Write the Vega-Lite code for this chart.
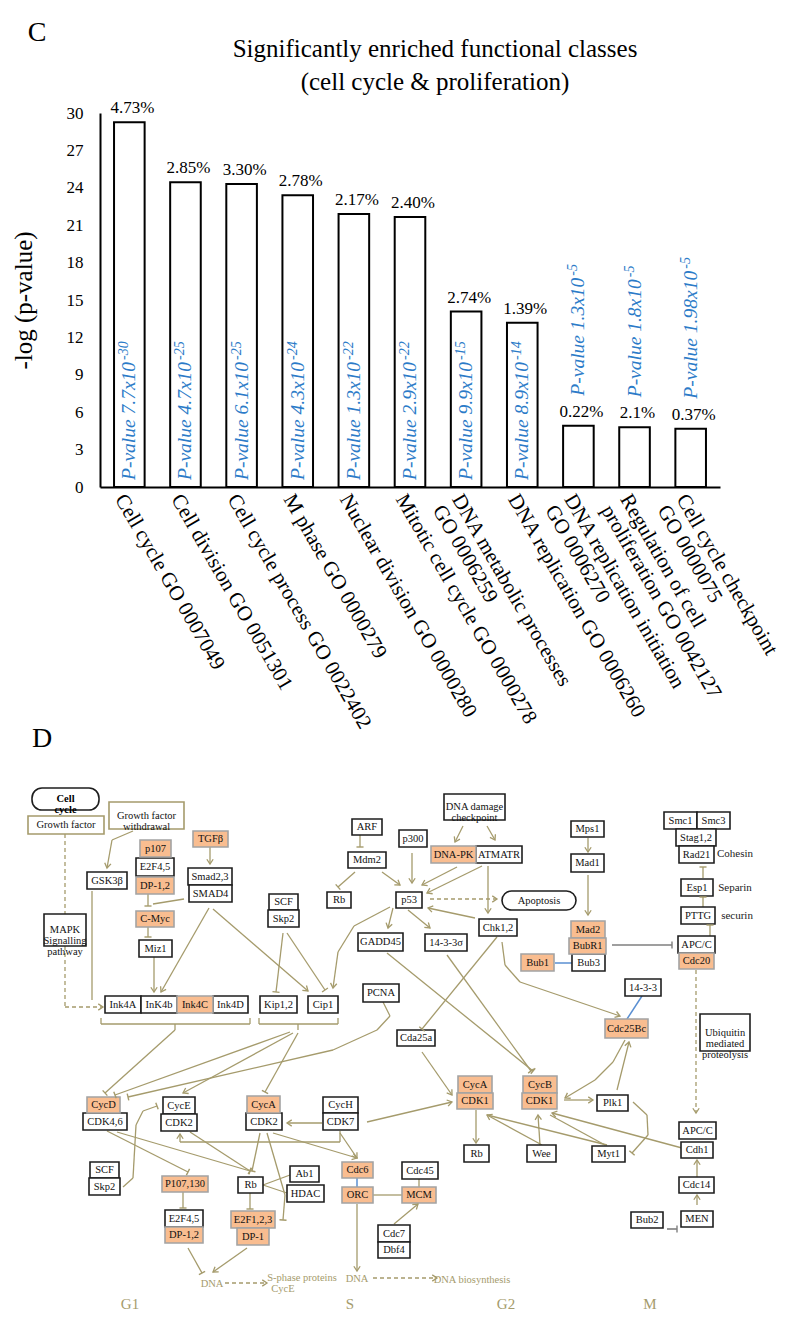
{
  "$schema": "https://vega.github.io/schema/vega-lite/v6.json",
  "width": 800,
  "height": 1328,
  "autosize": {"type": "none"},
  "padding": 0,
  "background": "white",
  "config": {"view": {"stroke": null}, "font": "Liberation Serif", "text": {"font": "Liberation Serif"}},
  "datasets": {
    "bars": [
      {"cat": "Cell cycle GO 0007049", "v": 29.25, "pct": "4.73%", "pv": "P-value 7.7x10", "ex": "-30"},
      {"cat": "Cell division GO 0051301", "v": 24.45, "pct": "2.85%", "pv": "P-value 4.7x10", "ex": "-25"},
      {"cat": "Cell cycle process GO  0022402", "v": 24.3, "pct": "3.30%", "pv": "P-value 6.1x10", "ex": "-25"},
      {"cat": "M phase GO 0000279", "v": 23.4, "pct": "2.78%", "pv": "P-value 4.3x10", "ex": "-24"},
      {"cat": "Nuclear division GO 0000280", "v": 21.9, "pct": "2.17%", "pv": "P-value 1.3x10", "ex": "-22"},
      {"cat": "Mitotic cell cycle GO 0000278", "v": 21.65, "pct": "2.40%", "pv": "P-value 2.9x10", "ex": "-22"},
      {"cat": "DNA metabolic processes|GO 0006259", "v": 14.07, "pct": "2.74%", "pv": "P-value 9.9x10", "ex": "-15"},
      {"cat": "DNA replication GO 0006260", "v": 13.18, "pct": "1.39%", "pv": "P-value 8.9x10", "ex": "-14"},
      {"cat": "DNA replication initiation|GO 0006270", "v": 4.92, "pct": "0.22%", "pv": "P-value 1.3x10", "ex": "-5"},
      {"cat": "Regulation of cell|proliferation GO 0042127", "v": 4.79, "pct": "2.1%", "pv": "P-value 1.8x10", "ex": "-5"},
      {"cat": "Cell cycle checkpoint|GO 0000075", "v": 4.68, "pct": "0.37%", "pv": "P-value 1.98x10", "ex": "-5"}
    ],
    "nodes": [
      {"t": "Cell|cycle", "x1": 32, "x2": 99, "y1": 788, "y2": 810, "k": "e"},
      {"t": "Growth factor", "x1": 28, "x2": 104, "y1": 816, "y2": 834, "k": "g"},
      {"t": "Growth factor|withdrawal", "x1": 109, "x2": 184, "y1": 802, "y2": 829, "k": "g"},
      {"t": "p107", "x1": 140, "x2": 171, "y1": 840, "y2": 857, "k": "o"},
      {"t": "E2F4,5", "x1": 136, "x2": 174, "y1": 858, "y2": 876, "k": "n"},
      {"t": "DP-1,2", "x1": 136, "x2": 174, "y1": 877, "y2": 894, "k": "o"},
      {"t": "TGFβ", "x1": 193, "x2": 228, "y1": 831, "y2": 847, "k": "o"},
      {"t": "Smad2,3", "x1": 188, "x2": 232, "y1": 868, "y2": 885, "k": "n"},
      {"t": "SMAD4", "x1": 189, "x2": 232, "y1": 885, "y2": 902, "k": "n"},
      {"t": "GSK3β", "x1": 87, "x2": 127, "y1": 872, "y2": 889, "k": "n"},
      {"t": "C-Myc", "x1": 136, "x2": 174, "y1": 911, "y2": 927, "k": "o"},
      {"t": "Miz1", "x1": 139, "x2": 172, "y1": 940, "y2": 957, "k": "n"},
      {"t": "MAPK|Signalling|pathway", "x1": 44, "x2": 86, "y1": 914, "y2": 946, "k": "n"},
      {"t": "SCF", "x1": 269, "x2": 298, "y1": 894, "y2": 910, "k": "n"},
      {"t": "Skp2", "x1": 268, "x2": 299, "y1": 910, "y2": 927, "k": "n"},
      {"t": "ARF", "x1": 352, "x2": 382, "y1": 819, "y2": 835, "k": "n"},
      {"t": "Mdm2", "x1": 348, "x2": 386, "y1": 852, "y2": 868, "k": "n"},
      {"t": "Rb", "x1": 327, "x2": 351, "y1": 892, "y2": 908, "k": "n"},
      {"t": "Ink4A", "x1": 105, "x2": 141, "y1": 996, "y2": 1013, "k": "n"},
      {"t": "InK4b", "x1": 141, "x2": 177, "y1": 996, "y2": 1013, "k": "n"},
      {"t": "Ink4C", "x1": 177, "x2": 213, "y1": 996, "y2": 1013, "k": "o"},
      {"t": "Ink4D", "x1": 213, "x2": 248, "y1": 996, "y2": 1013, "k": "n"},
      {"t": "Kip1,2", "x1": 260, "x2": 297, "y1": 996, "y2": 1013, "k": "n"},
      {"t": "Cip1", "x1": 308, "x2": 338, "y1": 996, "y2": 1013, "k": "n"},
      {"t": "PCNA", "x1": 363, "x2": 399, "y1": 984, "y2": 1002, "k": "n"},
      {"t": "GADD45", "x1": 358, "x2": 403, "y1": 933, "y2": 951, "k": "n"},
      {"t": "p53", "x1": 396, "x2": 422, "y1": 892, "y2": 908, "k": "n"},
      {"t": "DNA damage|checkpoint", "x1": 444, "x2": 505, "y1": 794, "y2": 820, "k": "n"},
      {"t": "p300", "x1": 399, "x2": 427, "y1": 830, "y2": 847, "k": "n"},
      {"t": "DNA-PK", "x1": 431, "x2": 476, "y1": 846, "y2": 863, "k": "o"},
      {"t": "ATMATR", "x1": 476, "x2": 522, "y1": 846, "y2": 863, "k": "n"},
      {"t": "Apoptosis", "x1": 502, "x2": 576, "y1": 891, "y2": 910, "k": "e"},
      {"t": "Chk1,2", "x1": 479, "x2": 517, "y1": 919, "y2": 936, "k": "n"},
      {"t": "14-3-3σ", "x1": 425, "x2": 467, "y1": 934, "y2": 951, "k": "n"},
      {"t": "Mps1", "x1": 571, "x2": 604, "y1": 821, "y2": 837, "k": "n"},
      {"t": "Mad1", "x1": 571, "x2": 604, "y1": 854, "y2": 872, "k": "n"},
      {"t": "Mad2", "x1": 571, "x2": 605, "y1": 921, "y2": 938, "k": "o"},
      {"t": "BubR1", "x1": 569, "x2": 606, "y1": 938, "y2": 954, "k": "o"},
      {"t": "Bub3", "x1": 572, "x2": 605, "y1": 954, "y2": 971, "k": "n"},
      {"t": "Bub1", "x1": 521, "x2": 554, "y1": 954, "y2": 971, "k": "o"},
      {"t": "Smc1", "x1": 664, "x2": 697, "y1": 812, "y2": 829, "k": "n"},
      {"t": "Smc3", "x1": 697, "x2": 730, "y1": 812, "y2": 829, "k": "n"},
      {"t": "Stag1,2", "x1": 676, "x2": 716, "y1": 829, "y2": 846, "k": "n"},
      {"t": "Rad21", "x1": 679, "x2": 714, "y1": 846, "y2": 863, "k": "n"},
      {"t": "Esp1", "x1": 681, "x2": 713, "y1": 879, "y2": 896, "k": "n"},
      {"t": "PTTG", "x1": 681, "x2": 715, "y1": 907, "y2": 924, "k": "n"},
      {"t": "APC/C", "x1": 678, "x2": 715, "y1": 936, "y2": 953, "k": "n"},
      {"t": "Cdc20", "x1": 679, "x2": 714, "y1": 953, "y2": 969, "k": "o"},
      {"t": "14-3-3", "x1": 625, "x2": 661, "y1": 979, "y2": 996, "k": "n"},
      {"t": "Cdc25Bc", "x1": 605, "x2": 648, "y1": 1019, "y2": 1038, "k": "o"},
      {"t": "Ubiquitin|mediated|proteolysis", "x1": 700, "x2": 750, "y1": 1014, "y2": 1051, "k": "n"},
      {"t": "Cda25a", "x1": 397, "x2": 435, "y1": 1030, "y2": 1046, "k": "n"},
      {"t": "CycD", "x1": 87, "x2": 120, "y1": 1097, "y2": 1113, "k": "o"},
      {"t": "CDK4,6", "x1": 83, "x2": 127, "y1": 1113, "y2": 1130, "k": "n"},
      {"t": "CycE", "x1": 163, "x2": 195, "y1": 1097, "y2": 1114, "k": "n"},
      {"t": "CDK2", "x1": 161, "x2": 197, "y1": 1114, "y2": 1131, "k": "n"},
      {"t": "CycA", "x1": 247, "x2": 280, "y1": 1096, "y2": 1113, "k": "o"},
      {"t": "CDK2", "x1": 246, "x2": 282, "y1": 1113, "y2": 1130, "k": "n"},
      {"t": "CycH", "x1": 323, "x2": 358, "y1": 1097, "y2": 1113, "k": "n"},
      {"t": "CDK7", "x1": 323, "x2": 358, "y1": 1113, "y2": 1130, "k": "n"},
      {"t": "SCF", "x1": 90, "x2": 119, "y1": 1162, "y2": 1178, "k": "n"},
      {"t": "Skp2", "x1": 89, "x2": 120, "y1": 1178, "y2": 1195, "k": "n"},
      {"t": "P107,130", "x1": 162, "x2": 208, "y1": 1176, "y2": 1192, "k": "o"},
      {"t": "E2F4,5", "x1": 165, "x2": 203, "y1": 1210, "y2": 1227, "k": "n"},
      {"t": "DP-1,2", "x1": 165, "x2": 203, "y1": 1227, "y2": 1243, "k": "o"},
      {"t": "Rb", "x1": 238, "x2": 263, "y1": 1177, "y2": 1193, "k": "n"},
      {"t": "Ab1", "x1": 290, "x2": 319, "y1": 1166, "y2": 1182, "k": "n"},
      {"t": "HDAC", "x1": 287, "x2": 324, "y1": 1185, "y2": 1202, "k": "n"},
      {"t": "E2F1,2,3", "x1": 231, "x2": 275, "y1": 1211, "y2": 1228, "k": "o"},
      {"t": "DP-1", "x1": 237, "x2": 269, "y1": 1228, "y2": 1245, "k": "o"},
      {"t": "Cdc6", "x1": 342, "x2": 373, "y1": 1162, "y2": 1178, "k": "o"},
      {"t": "ORC", "x1": 342, "x2": 373, "y1": 1187, "y2": 1203, "k": "o"},
      {"t": "Cdc7", "x1": 378, "x2": 410, "y1": 1225, "y2": 1242, "k": "n"},
      {"t": "Dbf4", "x1": 378, "x2": 410, "y1": 1242, "y2": 1258, "k": "n"},
      {"t": "CycA", "x1": 458, "x2": 492, "y1": 1076, "y2": 1093, "k": "o"},
      {"t": "CDK1", "x1": 457, "x2": 493, "y1": 1093, "y2": 1109, "k": "o"},
      {"t": "CycB", "x1": 523, "x2": 557, "y1": 1076, "y2": 1093, "k": "o"},
      {"t": "CDK1", "x1": 522, "x2": 557, "y1": 1093, "y2": 1109, "k": "o"},
      {"t": "Plk1", "x1": 597, "x2": 628, "y1": 1095, "y2": 1111, "k": "n"},
      {"t": "Rb", "x1": 464, "x2": 489, "y1": 1145, "y2": 1162, "k": "n"},
      {"t": "Wee", "x1": 527, "x2": 556, "y1": 1145, "y2": 1162, "k": "n"},
      {"t": "Myt1", "x1": 592, "x2": 625, "y1": 1146, "y2": 1162, "k": "n"},
      {"t": "APC/C", "x1": 679, "x2": 716, "y1": 1122, "y2": 1139, "k": "n"},
      {"t": "Cdh1", "x1": 681, "x2": 713, "y1": 1142, "y2": 1158, "k": "n"},
      {"t": "Cdc14", "x1": 679, "x2": 714, "y1": 1177, "y2": 1193, "k": "n"},
      {"t": "MEN", "x1": 681, "x2": 713, "y1": 1211, "y2": 1227, "k": "n"},
      {"t": "Bub2", "x1": 631, "x2": 663, "y1": 1212, "y2": 1228, "k": "n"},
      {"t": "Cdc45", "x1": 402, "x2": 438, "y1": 1162, "y2": 1179, "k": "n"},
      {"t": "MCM", "x1": 402, "x2": 436, "y1": 1187, "y2": 1203, "k": "o"}
    ],
    "edges": [
      {"x1": 65, "y1": 834, "x2": 65, "y2": 1007, "h": "n", "k": "d"},
      {"x1": 65, "y1": 1007, "x2": 103, "y2": 1007, "h": "a", "k": "d"},
      {"x1": 133, "y1": 831, "x2": 112, "y2": 840, "h": "n", "k": "o"},
      {"x1": 112, "y1": 840, "x2": 107, "y2": 868, "h": "a", "k": "o"},
      {"x1": 92, "y1": 891, "x2": 92, "y2": 1000, "h": "n", "k": "o"},
      {"x1": 148, "y1": 894, "x2": 148, "y2": 906, "h": "t", "k": "o"},
      {"x1": 184, "y1": 899, "x2": 153, "y2": 904, "h": "n", "k": "o"},
      {"x1": 148, "y1": 927, "x2": 148, "y2": 937, "h": "t", "k": "o"},
      {"x1": 154, "y1": 957, "x2": 154, "y2": 992, "h": "a", "k": "o"},
      {"x1": 209, "y1": 908, "x2": 161, "y2": 992, "h": "a", "k": "o"},
      {"x1": 213, "y1": 909, "x2": 308, "y2": 991, "h": "a", "k": "o"},
      {"x1": 210, "y1": 847, "x2": 210, "y2": 864, "h": "a", "k": "o"},
      {"x1": 283, "y1": 933, "x2": 276, "y2": 992, "h": "t", "k": "o"},
      {"x1": 287, "y1": 933, "x2": 325, "y2": 990, "h": "t", "k": "o"},
      {"x1": 390, "y1": 907, "x2": 354, "y2": 926, "h": "n", "k": "o"},
      {"x1": 354, "y1": 926, "x2": 338, "y2": 952, "h": "n", "k": "o"},
      {"x1": 338, "y1": 952, "x2": 333, "y2": 988, "h": "a", "k": "o"},
      {"x1": 355, "y1": 872, "x2": 338, "y2": 887, "h": "t", "k": "o"},
      {"x1": 382, "y1": 872, "x2": 400, "y2": 885, "h": "a", "k": "o"},
      {"x1": 360, "y1": 835, "x2": 360, "y2": 847, "h": "t", "k": "o"},
      {"x1": 393, "y1": 908, "x2": 388, "y2": 928, "h": "a", "k": "o"},
      {"x1": 387, "y1": 953, "x2": 533, "y2": 1071, "h": "t", "k": "o"},
      {"x1": 383, "y1": 1002, "x2": 390, "y2": 1016, "h": "n", "k": "o"},
      {"x1": 390, "y1": 1016, "x2": 377, "y2": 1030, "h": "n", "k": "o"},
      {"x1": 377, "y1": 1030, "x2": 333, "y2": 1050, "h": "n", "k": "o"},
      {"x1": 333, "y1": 1050, "x2": 128, "y2": 1097, "h": "t", "k": "o"},
      {"x1": 463, "y1": 826, "x2": 455, "y2": 842, "h": "a", "k": "o"},
      {"x1": 487, "y1": 826, "x2": 495, "y2": 840, "h": "a", "k": "o"},
      {"x1": 412, "y1": 853, "x2": 412, "y2": 883, "h": "a", "k": "o"},
      {"x1": 457, "y1": 867, "x2": 422, "y2": 885, "h": "a", "k": "o"},
      {"x1": 482, "y1": 866, "x2": 427, "y2": 893, "h": "a", "k": "o"},
      {"x1": 488, "y1": 866, "x2": 488, "y2": 913, "h": "a", "k": "o"},
      {"x1": 430, "y1": 899, "x2": 497, "y2": 899, "h": "a", "k": "d"},
      {"x1": 475, "y1": 918, "x2": 428, "y2": 908, "h": "a", "k": "o"},
      {"x1": 408, "y1": 910, "x2": 430, "y2": 928, "h": "a", "k": "o"},
      {"x1": 497, "y1": 937, "x2": 422, "y2": 1029, "h": "t", "k": "o"},
      {"x1": 502, "y1": 942, "x2": 505, "y2": 965, "h": "n", "k": "o"},
      {"x1": 505, "y1": 965, "x2": 520, "y2": 982, "h": "n", "k": "o"},
      {"x1": 520, "y1": 982, "x2": 620, "y2": 1016, "h": "a", "k": "o"},
      {"x1": 447, "y1": 955, "x2": 531, "y2": 1071, "h": "t", "k": "o"},
      {"x1": 588, "y1": 838, "x2": 588, "y2": 852, "h": "a", "k": "o"},
      {"x1": 588, "y1": 875, "x2": 588, "y2": 915, "h": "a", "k": "o"},
      {"x1": 612, "y1": 945, "x2": 672, "y2": 945, "h": "t", "k": "g"},
      {"x1": 555, "y1": 963, "x2": 572, "y2": 963, "h": "n", "k": "b"},
      {"x1": 642, "y1": 996, "x2": 627, "y2": 1019, "h": "n", "k": "b"},
      {"x1": 703, "y1": 878, "x2": 703, "y2": 867, "h": "t", "k": "o"},
      {"x1": 703, "y1": 907, "x2": 703, "y2": 897, "h": "t", "k": "o"},
      {"x1": 710, "y1": 936, "x2": 710, "y2": 925, "h": "t", "k": "o"},
      {"x1": 696, "y1": 970, "x2": 696, "y2": 1113, "h": "a", "k": "d"},
      {"x1": 101, "y1": 1018, "x2": 101, "y2": 1024, "h": "n", "k": "o"},
      {"x1": 101, "y1": 1024, "x2": 250, "y2": 1024, "h": "n", "k": "o"},
      {"x1": 250, "y1": 1024, "x2": 250, "y2": 1018, "h": "n", "k": "o"},
      {"x1": 175, "y1": 1024, "x2": 175, "y2": 1030, "h": "n", "k": "o"},
      {"x1": 259, "y1": 1018, "x2": 259, "y2": 1024, "h": "n", "k": "o"},
      {"x1": 259, "y1": 1024, "x2": 338, "y2": 1024, "h": "n", "k": "o"},
      {"x1": 338, "y1": 1024, "x2": 338, "y2": 1018, "h": "n", "k": "o"},
      {"x1": 298, "y1": 1024, "x2": 298, "y2": 1030, "h": "n", "k": "o"},
      {"x1": 175, "y1": 1030, "x2": 105, "y2": 1093, "h": "t", "k": "o"},
      {"x1": 290, "y1": 1032, "x2": 115, "y2": 1095, "h": "t", "k": "o"},
      {"x1": 293, "y1": 1033, "x2": 183, "y2": 1093, "h": "a", "k": "o"},
      {"x1": 298, "y1": 1033, "x2": 265, "y2": 1092, "h": "t", "k": "o"},
      {"x1": 107, "y1": 1131, "x2": 188, "y2": 1172, "h": "t", "k": "o"},
      {"x1": 117, "y1": 1132, "x2": 250, "y2": 1171, "h": "t", "k": "o"},
      {"x1": 190, "y1": 1132, "x2": 250, "y2": 1171, "h": "t", "k": "o"},
      {"x1": 260, "y1": 1133, "x2": 252, "y2": 1171, "h": "t", "k": "o"},
      {"x1": 267, "y1": 1133, "x2": 285, "y2": 1195, "h": "n", "k": "o"},
      {"x1": 285, "y1": 1195, "x2": 283, "y2": 1220, "h": "t", "k": "o"},
      {"x1": 273, "y1": 1133, "x2": 357, "y2": 1158, "h": "a", "k": "o"},
      {"x1": 340, "y1": 1133, "x2": 357, "y2": 1158, "h": "a", "k": "o"},
      {"x1": 322, "y1": 1123, "x2": 287, "y2": 1123, "h": "a", "k": "o"},
      {"x1": 340, "y1": 1131, "x2": 340, "y2": 1142, "h": "n", "k": "o"},
      {"x1": 340, "y1": 1142, "x2": 180, "y2": 1142, "h": "n", "k": "o"},
      {"x1": 180, "y1": 1142, "x2": 180, "y2": 1134, "h": "a", "k": "o"},
      {"x1": 367, "y1": 1122, "x2": 452, "y2": 1102, "h": "a", "k": "o"},
      {"x1": 123, "y1": 1187, "x2": 133, "y2": 1178, "h": "n", "k": "o"},
      {"x1": 133, "y1": 1178, "x2": 136, "y2": 1125, "h": "n", "k": "o"},
      {"x1": 136, "y1": 1125, "x2": 143, "y2": 1111, "h": "n", "k": "o"},
      {"x1": 143, "y1": 1111, "x2": 157, "y2": 1106, "h": "t", "k": "o"},
      {"x1": 183, "y1": 1192, "x2": 183, "y2": 1208, "h": "t", "k": "o"},
      {"x1": 250, "y1": 1193, "x2": 250, "y2": 1209, "h": "t", "k": "o"},
      {"x1": 263, "y1": 1185, "x2": 290, "y2": 1175, "h": "n", "k": "o"},
      {"x1": 263, "y1": 1185, "x2": 287, "y2": 1193, "h": "n", "k": "o"},
      {"x1": 188, "y1": 1248, "x2": 202, "y2": 1273, "h": "t", "k": "o"},
      {"x1": 247, "y1": 1248, "x2": 213, "y2": 1272, "h": "a", "k": "o"},
      {"x1": 225, "y1": 1283, "x2": 267, "y2": 1283, "h": "a", "k": "d"},
      {"x1": 357, "y1": 1178, "x2": 357, "y2": 1187, "h": "n", "k": "b"},
      {"x1": 357, "y1": 1204, "x2": 357, "y2": 1271, "h": "a", "k": "o"},
      {"x1": 373, "y1": 1195, "x2": 402, "y2": 1195, "h": "n", "k": "o"},
      {"x1": 394, "y1": 1224, "x2": 418, "y2": 1204, "h": "a", "k": "o"},
      {"x1": 419, "y1": 1179, "x2": 419, "y2": 1187, "h": "n", "k": "o"},
      {"x1": 373, "y1": 1278, "x2": 437, "y2": 1278, "h": "a", "k": "d"},
      {"x1": 422, "y1": 1052, "x2": 452, "y2": 1095, "h": "a", "k": "o"},
      {"x1": 476, "y1": 1110, "x2": 476, "y2": 1143, "h": "a", "k": "o"},
      {"x1": 542, "y1": 1145, "x2": 487, "y2": 1115, "h": "a", "k": "o"},
      {"x1": 607, "y1": 1145, "x2": 487, "y2": 1115, "h": "n", "k": "o"},
      {"x1": 540, "y1": 1145, "x2": 538, "y2": 1115, "h": "a", "k": "o"},
      {"x1": 605, "y1": 1145, "x2": 550, "y2": 1115, "h": "n", "k": "o"},
      {"x1": 682, "y1": 1148, "x2": 552, "y2": 1113, "h": "a", "k": "o"},
      {"x1": 564, "y1": 1100, "x2": 593, "y2": 1100, "h": "a", "k": "o"},
      {"x1": 617, "y1": 1090, "x2": 629, "y2": 1042, "h": "a", "k": "o"},
      {"x1": 625, "y1": 1040, "x2": 613, "y2": 1062, "h": "n", "k": "o"},
      {"x1": 613, "y1": 1062, "x2": 595, "y2": 1080, "h": "n", "k": "o"},
      {"x1": 595, "y1": 1080, "x2": 565, "y2": 1098, "h": "a", "k": "o"},
      {"x1": 633, "y1": 1102, "x2": 647, "y2": 1115, "h": "n", "k": "o"},
      {"x1": 647, "y1": 1115, "x2": 648, "y2": 1135, "h": "n", "k": "o"},
      {"x1": 648, "y1": 1135, "x2": 632, "y2": 1153, "h": "t", "k": "o"},
      {"x1": 697, "y1": 1177, "x2": 697, "y2": 1160, "h": "a", "k": "o"},
      {"x1": 697, "y1": 1205, "x2": 697, "y2": 1195, "h": "a", "k": "o"},
      {"x1": 667, "y1": 1229, "x2": 677, "y2": 1229, "h": "t", "k": "g"}
    ],
    "texts": [
      {"t": "C", "x": 37, "y": 41, "k": "panel"},
      {"t": "D", "x": 42, "y": 747, "k": "panel"},
      {"t": "Significantly enriched functional classes", "x": 435, "y": 57, "k": "title"},
      {"t": "(cell cycle & proliferation)", "x": 435, "y": 90, "k": "title"},
      {"t": "Cohesin", "x": 735, "y": 857, "k": "note"},
      {"t": "Separin", "x": 735, "y": 891, "k": "note"},
      {"t": "securin", "x": 737, "y": 919, "k": "note"},
      {"t": "DNA", "x": 212, "y": 1287, "k": "dna"},
      {"t": "S-phase proteins", "x": 302, "y": 1281, "k": "dna"},
      {"t": "CycE", "x": 283, "y": 1292, "k": "dna"},
      {"t": "DNA", "x": 357, "y": 1282, "k": "dna"},
      {"t": "DNA biosynthesis", "x": 472, "y": 1283, "k": "dna"},
      {"t": "G1", "x": 130, "y": 1309, "k": "phase"},
      {"t": "S", "x": 350, "y": 1309, "k": "phase"},
      {"t": "G2", "x": 506, "y": 1309, "k": "phase"},
      {"t": "M", "x": 650, "y": 1309, "k": "phase"}
    ]
  },
  "resolve": {"scale": {"x": "independent", "y": "independent"}, "axis": {"x": "independent", "y": "independent"}},
  "layer": [
    {
      "data": {"name": "bars"},
      "encoding": {
        "x": {"field": "cat", "type": "nominal", "sort": null,
          "scale": {"range": [100, 720], "paddingInner": 0.455, "paddingOuter": 0.25},
          "axis": {"orient": "bottom", "offset": -841, "title": null, "ticks": false, "domainColor": "black", "domainWidth": 2,
            "labelAngle": 60, "labelAlign": "left", "labelBaseline": "top", "labelFont": "Liberation Serif", "labelFontSize": 21,
            "labelColor": "black", "labelPadding": 3, "labelLimit": 0, "labelOverlap": false, "labelFlush": false, "labelBound": false,
            "labelLineHeight": 22, "labelExpr": "split(datum.label, '|')", "grid": false}},
        "y": {"field": "v", "type": "quantitative",
          "scale": {"domain": [0, 30], "range": [487, 113], "nice": false, "zero": true},
          "axis": {"orient": "left", "offset": -100, "values": [0, 3, 6, 9, 12, 15, 18, 21, 24, 27, 30], "ticks": false,
            "domainColor": "black", "domainWidth": 2, "grid": false, "labelFont": "Liberation Serif", "labelFontSize": 17,
            "labelColor": "black", "labelPadding": 17, "title": "-log (p-value)", "titleFont": "Liberation Serif",
            "titleFontSize": 25, "titleFontWeight": "normal", "titleColor": "black", "titlePadding": 30}}
      },
      "layer": [
        {"mark": {"type": "bar", "fill": "white", "stroke": "black", "strokeWidth": 2}},
        {"mark": {"type": "text", "font": "Liberation Serif", "fontSize": 17, "baseline": "alphabetic", "dy": -9, "dx": 3, "color": "black"},
          "encoding": {"text": {"field": "pct"}}},
        {"transform": [{"filter": "datum.v > 10"}],
          "mark": {"type": "text", "font": "Liberation Serif", "fontStyle": "italic", "fontSize": 19.5, "angle": 270, "align": "left", "baseline": "middle", "dx": 7, "color": "#2b7bc8"},
          "encoding": {"y": {"datum": 0}, "text": {"field": "pv"}}},
        {"transform": [{"filter": "datum.v > 10"}],
          "mark": {"type": "text", "font": "Liberation Serif", "fontStyle": "italic", "fontSize": 14, "angle": 270, "align": "left", "baseline": "middle", "dx": 127, "dy": -5, "color": "#2b7bc8"},
          "encoding": {"y": {"datum": 0}, "text": {"field": "ex"}}},
        {"transform": [{"filter": "datum.v <= 10"}],
          "mark": {"type": "text", "font": "Liberation Serif", "fontStyle": "italic", "fontSize": 19.5, "angle": 270, "align": "left", "baseline": "middle", "dx": 30, "color": "#2b7bc8"},
          "encoding": {"text": {"field": "pv"}}},
        {"transform": [{"filter": "datum.v <= 10 && length(datum.pv) == 14"}],
          "mark": {"type": "text", "font": "Liberation Serif", "fontStyle": "italic", "fontSize": 14, "angle": 270, "align": "left", "baseline": "middle", "dx": 150, "dy": -5, "color": "#2b7bc8"},
          "encoding": {"text": {"field": "ex"}}},
        {"transform": [{"filter": "datum.v <= 10 && length(datum.pv) == 15"}],
          "mark": {"type": "text", "font": "Liberation Serif", "fontStyle": "italic", "fontSize": 14, "angle": 270, "align": "left", "baseline": "middle", "dx": 160, "dy": -5, "color": "#2b7bc8"},
          "encoding": {"text": {"field": "ex"}}}
      ]
    },
    {
      "layer": [
        {"data": {"name": "edges"}, "transform": [{"filter": "datum.k == 'o'"}],
          "mark": {"type": "rule", "color": "#a59b6c", "strokeWidth": 1.3},
          "encoding": {
            "x": {"field": "x1", "type": "quantitative", "scale": {"domain": [0, 800], "range": [0, 800], "nice": false, "zero": false}, "axis": null},
            "y": {"field": "y1", "type": "quantitative", "scale": {"domain": [0, 1328], "range": [0, 1328], "nice": false, "zero": false}, "axis": null},
            "x2": {"field": "x2"}, "y2": {"field": "y2"}}},
        {"data": {"name": "edges"}, "transform": [{"filter": "datum.k == 'd'"}],
          "mark": {"type": "rule", "color": "#a59b6c", "strokeWidth": 1.3, "strokeDash": [4, 3]},
          "encoding": {"x": {"field": "x1", "type": "quantitative"}, "y": {"field": "y1", "type": "quantitative"}, "x2": {"field": "x2"}, "y2": {"field": "y2"}}},
        {"data": {"name": "edges"}, "transform": [{"filter": "datum.k == 'b'"}],
          "mark": {"type": "rule", "color": "#5a8fd2", "strokeWidth": 1.5},
          "encoding": {"x": {"field": "x1", "type": "quantitative"}, "y": {"field": "y1", "type": "quantitative"}, "x2": {"field": "x2"}, "y2": {"field": "y2"}}},
        {"data": {"name": "edges"}, "transform": [{"filter": "datum.k == 'g'"}],
          "mark": {"type": "rule", "color": "#7f7f7f", "strokeWidth": 1.6},
          "encoding": {"x": {"field": "x1", "type": "quantitative"}, "y": {"field": "y1", "type": "quantitative"}, "x2": {"field": "x2"}, "y2": {"field": "y2"}}},
        {"data": {"name": "nodes"}, "transform": [{"filter": "datum.k == 'n'"}],
          "mark": {"type": "rect", "fill": "white", "stroke": "#1e1e1e", "strokeWidth": 1.6},
          "encoding": {"x": {"field": "x1", "type": "quantitative"}, "x2": {"field": "x2"}, "y": {"field": "y1", "type": "quantitative"}, "y2": {"field": "y2"}}},
        {"data": {"name": "nodes"}, "transform": [{"filter": "datum.k == 'o'"}],
          "mark": {"type": "rect", "fill": "#f9bd90", "stroke": "#a3a3a3", "strokeWidth": 1.6},
          "encoding": {"x": {"field": "x1", "type": "quantitative"}, "x2": {"field": "x2"}, "y": {"field": "y1", "type": "quantitative"}, "y2": {"field": "y2"}}},
        {"data": {"name": "nodes"}, "transform": [{"filter": "datum.k == 'g'"}],
          "mark": {"type": "rect", "fill": "white", "stroke": "#a59b6c", "strokeWidth": 1.6},
          "encoding": {"x": {"field": "x1", "type": "quantitative"}, "x2": {"field": "x2"}, "y": {"field": "y1", "type": "quantitative"}, "y2": {"field": "y2"}}},
        {"data": {"name": "nodes"}, "transform": [{"filter": "datum.k == 'e'"}],
          "mark": {"type": "rect", "fill": "white", "stroke": "#1e1e1e", "strokeWidth": 1.6, "cornerRadius": 10},
          "encoding": {"x": {"field": "x1", "type": "quantitative"}, "x2": {"field": "x2"}, "y": {"field": "y1", "type": "quantitative"}, "y2": {"field": "y2"}}},
        {"data": {"name": "edges"}, "transform": [{"filter": "datum.h == 'a'"}, {"calculate": "atan2(datum.y2 - datum.y1, datum.x2 - datum.x1) * 180 / PI", "as": "ang"}],
          "mark": {"type": "point", "shape": "M-1.5,-1L0,0L-1.5,1", "filled": false, "color": "#a59b6c", "strokeWidth": 1.3, "size": 40, "opacity": 1},
          "encoding": {"x": {"field": "x2", "type": "quantitative"}, "y": {"field": "y2", "type": "quantitative"}, "angle": {"field": "ang", "type": "quantitative", "scale": null}}},
        {"data": {"name": "edges"}, "transform": [{"filter": "datum.h == 't'"}, {"calculate": "atan2(datum.y2 - datum.y1, datum.x2 - datum.x1) * 180 / PI", "as": "ang"}],
          "mark": {"type": "point", "shape": "M0,-1L0,1", "filled": false, "strokeWidth": 1.4, "size": 50, "opacity": 1},
          "encoding": {"x": {"field": "x2", "type": "quantitative"}, "y": {"field": "y2", "type": "quantitative"}, "angle": {"field": "ang", "type": "quantitative", "scale": null},
            "color": {"condition": {"test": "datum.k == 'g'", "value": "#7f7f7f"}, "value": "#a59b6c"}}},
        {"data": {"name": "nodes"}, "transform": [{"filter": "datum.t != 'Cell|cycle'"}, {"calculate": "(datum.x1 + datum.x2) / 2", "as": "cx"}, {"calculate": "(datum.y1 + datum.y2) / 2", "as": "cy"}],
          "mark": {"type": "text", "font": "Liberation Serif", "fontSize": 10.5, "lineBreak": "|", "lineHeight": 11, "baseline": "middle", "align": "center", "color": "#111"},
          "encoding": {"x": {"field": "cx", "type": "quantitative"}, "y": {"field": "cy", "type": "quantitative"}, "text": {"field": "t"}}},
        {"data": {"name": "nodes"}, "transform": [{"filter": "datum.t == 'Cell|cycle'"}, {"calculate": "(datum.x1 + datum.x2) / 2", "as": "cx"}, {"calculate": "(datum.y1 + datum.y2) / 2", "as": "cy"}],
          "mark": {"type": "text", "font": "Liberation Serif", "fontSize": 10.5, "fontWeight": "bold", "lineBreak": "|", "lineHeight": 11, "baseline": "middle", "align": "center", "color": "black"},
          "encoding": {"x": {"field": "cx", "type": "quantitative"}, "y": {"field": "cy", "type": "quantitative"}, "text": {"field": "t"}}},
        {"data": {"name": "texts"}, "transform": [{"filter": "datum.k == 'panel'"}],
          "mark": {"type": "text", "font": "Liberation Serif", "fontSize": 28, "baseline": "alphabetic", "align": "center", "color": "black"},
          "encoding": {"x": {"field": "x", "type": "quantitative"}, "y": {"field": "y", "type": "quantitative"}, "text": {"field": "t"}}},
        {"data": {"name": "texts"}, "transform": [{"filter": "datum.k == 'title'"}],
          "mark": {"type": "text", "font": "Liberation Serif", "fontSize": 25, "baseline": "alphabetic", "align": "center", "color": "black"},
          "encoding": {"x": {"field": "x", "type": "quantitative"}, "y": {"field": "y", "type": "quantitative"}, "text": {"field": "t"}}},
        {"data": {"name": "texts"}, "transform": [{"filter": "datum.k == 'note'"}],
          "mark": {"type": "text", "font": "Liberation Serif", "fontSize": 11, "baseline": "alphabetic", "align": "center", "color": "#222"},
          "encoding": {"x": {"field": "x", "type": "quantitative"}, "y": {"field": "y", "type": "quantitative"}, "text": {"field": "t"}}},
        {"data": {"name": "texts"}, "transform": [{"filter": "datum.k == 'dna'"}],
          "mark": {"type": "text", "font": "Liberation Serif", "fontSize": 10.5, "baseline": "alphabetic", "align": "center", "color": "#a59b6c"},
          "encoding": {"x": {"field": "x", "type": "quantitative"}, "y": {"field": "y", "type": "quantitative"}, "text": {"field": "t"}}},
        {"data": {"name": "texts"}, "transform": [{"filter": "datum.k == 'phase'"}],
          "mark": {"type": "text", "font": "Liberation Serif", "fontSize": 15, "baseline": "alphabetic", "align": "center", "color": "#a59b6c"},
          "encoding": {"x": {"field": "x", "type": "quantitative"}, "y": {"field": "y", "type": "quantitative"}, "text": {"field": "t"}}}
      ]
    }
  ]
}
